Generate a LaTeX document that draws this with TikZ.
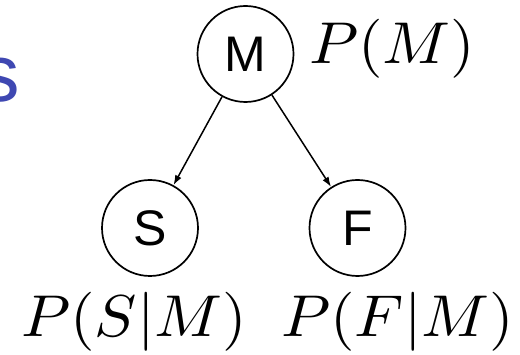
\documentclass[tikz,border=0pt]{standalone}
\usepackage{fontspec}
\setsansfont{Liberation Sans}
\usetikzlibrary{arrows.meta}
\definecolor{titleblue}{HTML}{3F48B2}
\begin{document}
\begin{tikzpicture}[x=1pt,y=1pt,
  var/.style={circle,draw,line width=1.7pt,minimum size=96pt,inner sep=0pt,
    font=\sffamily\fontsize{50}{60}\selectfont},
  lbl/.style={inner sep=0pt,anchor=base west},
  edge/.style={line width=1.5pt,-{Latex[length=10pt,width=7pt]}}]
\useasboundingbox (0,0) rectangle (520,355);
\node[inner sep=0pt,anchor=base west,text=titleblue,
  font=\sffamily\fontsize{81}{90}\selectfont] (title) at (-21,253) {s};
\node[var] (M) at (245.5,301) {M};
\node[var] (S) at (150,127) {S};
\node[var] (F) at (357.5,127) {F};
\draw[edge] (M) -- (S);
\draw[edge] (M) -- (F);
\node[lbl] (pm) at (309,291.5) {\scalebox{6.3}[5.9]{$P(M)$}};
\node[lbl] (psm) at (21,18) {\scalebox{6.3}[5.9]{$P(S|M)$}};
\node[lbl] (pfm) at (281,18) {\scalebox{6.3}[5.9]{$P(F|M)$}};
\end{tikzpicture}
\end{document}
